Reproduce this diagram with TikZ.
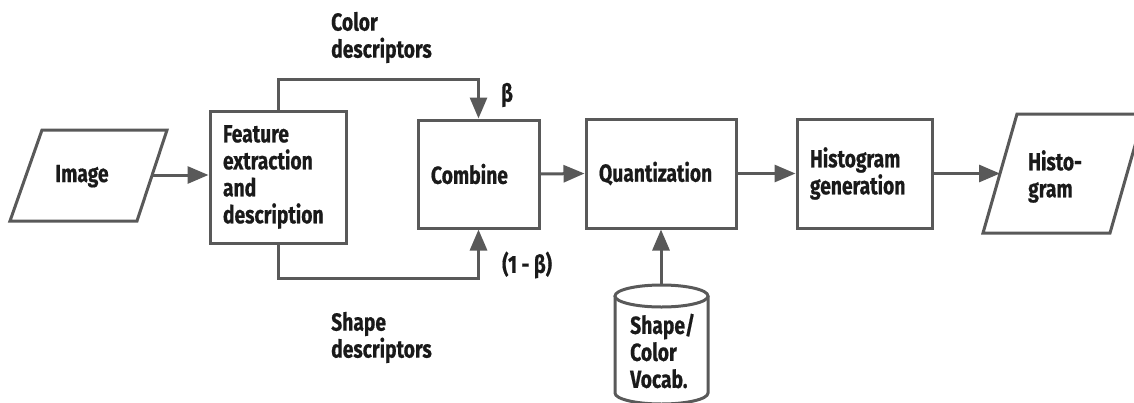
\documentclass[tikz,border=0pt]{standalone}
\usepackage{fontspec}
\setmainfont{Fira Sans}[FakeStretch=0.78, BoldFeatures={FakeBold=0.6}]
\usetikzlibrary{arrows.meta}
\definecolor{linegray}{HTML}{595959}
\definecolor{inkblack}{HTML}{1A1A1A}
\begin{document}
\begin{tikzpicture}[x=1pt,y=-1pt,
  every node/.style={font=\bfseries\fontsize{24.7}{27}\selectfont, text=inkblack},
  outline/.style={draw=linegray, line width=3pt, line join=miter},
  conn/.style={draw=linegray, line width=3pt, line join=miter,
    -{Triangle[length=21pt,width=17pt]}},
  stagebox/.style={outline, fill=white, align=left, inner xsep=13pt,
    inner ysep=0pt, minimum width=#1},
  lbl/.style={inner sep=0pt, align=left}
]
\useasboundingbox (0,0) rectangle (1134,402);
\clip (0,0) rectangle (1134,402);

% input parallelogram
\draw[outline, fill=white] (42,130) -- (167,130) -- (137,221) -- (10,221) -- cycle;
\node[lbl, anchor=base] (img) at (82,182) {Image};
\coordinate (imgR) at (152,175);

% processing stages
\node[stagebox=136pt, minimum height=132pt, text width=110pt] (feat) at (278,177)
  {Feature\\extraction\\and\\description};
\node[stagebox=121pt, minimum height=108pt, text width=95pt] (comb) at (478.5,174)
  {Combine};
\node[stagebox=150pt, minimum height=109pt, text width=124pt] (quant) at (661,173.5)
  {Quantization};
\node[stagebox=135pt, minimum height=109pt, text width=109pt] (hgen) at (864.5,173.5)
  {Histogram\\generation};

% output parallelogram
\draw[outline, fill=white] (1017,114) -- (1144,114) -- (1110,233) -- (983,233) -- cycle;
\node[lbl, anchor=west] (hist) at (1028,176.5) {Histo-\\gram};
\coordinate (histL) at (1000,173.5);

% vocabulary store
\draw[outline, fill=white] (615,296) -- (615,393)
  arc[start angle=180, end angle=360, x radius=46.5pt, y radius=11pt] -- (708,296);
\draw[outline, fill=white] (661.5,296) ellipse [x radius=46.5pt, y radius=11pt];
\node[lbl, anchor=west] (vocab) at (630,351) {Shape/\\Color\\Vocab.};
\coordinate (cyltop) at (661.5,285);

% descriptor routes
\coordinate (ctop) at (0,79);
\coordinate (cbot) at (0,278);
\draw[conn] (feat.north) -- (feat.north |- ctop) -| (comb.north);
\draw[conn] (feat.south) -- (feat.south |- cbot) -| (comb.south);

% main flow
\draw[conn] (imgR) -- (imgR -| feat.west);
\draw[conn] (comb.east) -- (quant.west);
\draw[conn] (quant.east) -- (hgen.west);
\draw[conn] (hgen.east) -- (histL);
\draw[conn] (quant.south |- cyltop) -- (quant.south);

% labels
\node[lbl, anchor=west] (colorlbl) at (331,37.5) {Color\\descriptors};
\node[lbl, anchor=west] (shapelbl) at (331,337.5) {Shape\\descriptors};
\node[lbl] (beta) at (507,95) {β};
\node[lbl, anchor=west] (onembeta) at (502,265) {(1 - β)};
\end{tikzpicture}
\end{document}
